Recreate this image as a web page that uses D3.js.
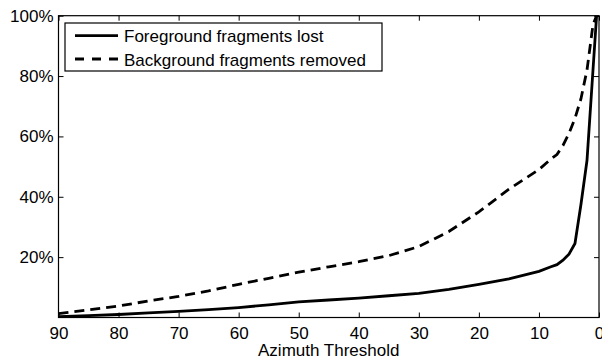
<!DOCTYPE html>
<html>
  <head>
    <meta charset="utf-8">
    <title></title>
    <script type="text/javascript" src="https://d3js.org/d3.v7.min.js"></script>
    <style media="screen">
      body { margin: 0; background: #fff; }
      text { font-family: "Liberation Sans", Arial, sans-serif; fill: #000; }
    </style>
  </head>
  <body>
    <div class="vis"></div>
    <script type="text/javascript">
      // azimuth threshold (deg) and % values
      var azimuth = [90, 85, 80, 75, 70, 65, 60, 55, 50, 45, 40, 35, 30, 25, 20, 15, 10, 8, 7, 6, 5, 4, 3, 2, 1, 0.4, 0];
      var foregroundLost = [0.3, 0.6, 1.0, 1.5, 2.0, 2.6, 3.3, 4.2, 5.2, 5.8, 6.4, 7.2, 8.0, 9.3, 11, 12.8, 15.3, 16.8, 17.5, 19, 21, 24.5, 37.5, 52, 82, 100, 100];
      var backgroundRemoved = [1.3, 2.5, 3.8, 5.5, 7.0, 8.8, 11, 13, 15, 16.8, 18.5, 20.5, 23.5, 28.5, 35, 42.5, 49, 52.5, 54, 57, 61, 66, 72.5, 82, 97, 100, 100];
      var xTicks = [90, 80, 70, 60, 50, 40, 30, 20, 10, 0];
      var yTicks = [20, 40, 60, 80, 100];
      var legendLabels = ["Foreground fragments lost", "Background fragments removed"];

      var w = 602;
      var h = 360;
      var padLeft = 58.5, padRight = 599, padTop = 15.7, padBottom = 317.5;

      var xscale = d3.scaleLinear().domain([90, 0]).range([padLeft, padRight]);
      var yscale = d3.scaleLinear().domain([0, 100]).range([padBottom, padTop]);

      var svg = d3.select('.vis')
        .append('svg')
        .attr('width', w)
        .attr('height', h);

      svg.append('defs').append('clipPath')
        .attr('id', 'clip')
        .append('rect')
        .attr('x', padLeft).attr('y', padTop)
        .attr('width', padRight - padLeft).attr('height', padBottom - padTop);

      // axes, ticks pointing inward
      var xAxis = d3.axisBottom(xscale).tickValues(xTicks).tickSizeInner(-5).tickSizeOuter(0).tickPadding(9);
      var yAxis = d3.axisLeft(yscale).tickValues(yTicks).tickSizeInner(-5).tickSizeOuter(0).tickPadding(5)
        .tickFormat(function(d) { return d + '%'; });
      var xTop = d3.axisTop(xscale).tickValues(xTicks).tickSizeInner(-5).tickSizeOuter(0).tickFormat('');
      var yRight = d3.axisRight(yscale).tickValues(yTicks).tickSizeInner(-5).tickSizeOuter(0).tickFormat('');

      svg.append('g').attr('transform', 'translate(0,' + padBottom + ')').call(xAxis);
      svg.append('g').attr('transform', 'translate(' + padLeft + ',0)').call(yAxis);
      svg.append('g').attr('transform', 'translate(0,' + padTop + ')').call(xTop);
      svg.append('g').attr('transform', 'translate(' + padRight + ',0)').call(yRight);

      svg.selectAll('.domain').remove();
      svg.selectAll('.tick line').attr('stroke', '#000').attr('stroke-width', 1);
      svg.selectAll('.tick text').style('font-size', '17px').attr('fill', '#000')
        .style('font-family', '"Liberation Sans", Arial, sans-serif');

      svg.append('rect')
        .attr('x', padLeft).attr('y', padTop)
        .attr('width', padRight - padLeft).attr('height', padBottom - padTop)
        .attr('fill', 'none').attr('stroke', '#000').attr('stroke-width', 1.2);

      var line = function(vals) {
        return d3.line()
          .x(function(d, i) { return xscale(azimuth[i]); })
          .y(function(d) { return yscale(d); })(vals);
      };

      svg.append('path')
        .attr('d', line(backgroundRemoved))
        .attr('clip-path', 'url(#clip)')
        .attr('fill', 'none').attr('stroke', '#000')
        .attr('stroke-width', 2.8).attr('stroke-dasharray', '10,6');

      svg.append('path')
        .attr('d', line(foregroundLost))
        .attr('clip-path', 'url(#clip)')
        .attr('fill', 'none').attr('stroke', '#000')
        .attr('stroke-width', 2.8);

      svg.append('text')
        .attr('x', (padLeft + padRight) / 2)
        .attr('y', 356)
        .attr('text-anchor', 'middle')
        .style('font-size', '17px')
        .text('Azimuth Threshold');

      // legend
      var lg = svg.append('g');
      lg.append('rect')
        .attr('x', 65).attr('y', 23)
        .attr('width', 317).attr('height', 48)
        .attr('fill', '#fff').attr('stroke', '#000').attr('stroke-width', 1.2);
      legendLabels.forEach(function(label, i) {
        var ly = 35.7 + i * 23.3;
        lg.append('line')
          .attr('x1', 75).attr('x2', 118)
          .attr('y1', ly).attr('y2', ly)
          .attr('stroke', '#000').attr('stroke-width', 2.8)
          .attr('stroke-dasharray', i == 1 ? '9,8' : null);
        lg.append('text')
          .attr('x', 124)
          .attr('y', ly + 6.5)
          .style('font-size', '17px')
          .text(label);
      });
    </script>
  </body>
</html>
